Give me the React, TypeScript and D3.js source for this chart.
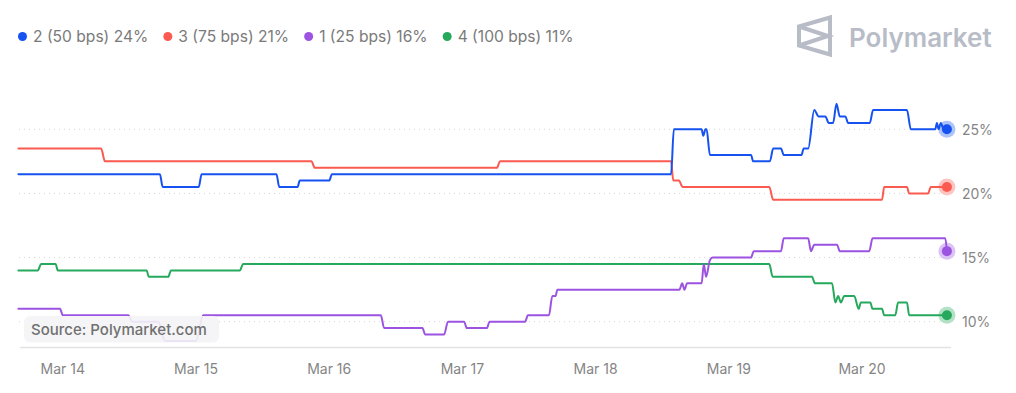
import React, { useMemo } from "react";
import * as d3 from "d3";

// ---------- DATA ----------
// time given as hours after Mar 14 00:00 (UTC), value in %
const BASE_MS = Date.UTC(2025, 2, 14);
const seriesLabels = ["2 (50 bps)", "3 (75 bps)", "1 (25 bps)", "4 (100 bps)"];
const legendValues = ["24%", "21%", "16%", "11%"];
const seriesColors = ["#1552f0", "#fa5a50", "#9c53e2", "#26a95c"];
const yTicks = [10, 15, 20, 25];
const xTickDays = [0, 1, 2, 3, 4, 5, 6];

const bps50: [number, number][] = [
  [-8, 21.5], [17.5, 21.5], [18.0, 20.5], [24.5, 20.5], [25.0, 21.5],
  [38.5, 21.5], [39.0, 20.5], [42.3, 20.5], [42.7, 21], [48.0, 21], [48.5, 21.5],
  [109.6, 21.5], [110.1, 25], [115.1, 25], [115.4, 24.5], [115.8, 25], [116.0, 25],
  [116.6, 23], [124.0, 23], [124.4, 22.5], [127.4, 22.5], [128.0, 23.5],
  [129.4, 23.5], [129.9, 23], [133.1, 23], [133.5, 23.5], [134.3, 23.5],
  [135.4, 26.5], [136.2, 26], [137.4, 26], [138.0, 25.5], [138.8, 25.5],
  [139.4, 27], [140.0, 26], [141.0, 26], [141.5, 25.5], [145.4, 25.5],
  [146.0, 26.5], [152.1, 26.5], [152.8, 25], [157.2, 25], [157.5, 25.5],
  [157.8, 25], [158.2, 25.5], [158.7, 25], [159.3, 25],
];

const bps75: [number, number][] = [
  [-8, 23.5], [6.9, 23.5], [7.6, 22.5], [44.8, 22.5], [45.4, 22],
  [78.2, 22], [78.8, 22.5], [109.6, 22.5], [110.0, 21], [111.0, 21],
  [111.7, 20.5], [127.3, 20.5], [128.0, 19.5], [147.6, 19.5], [148.0, 20.5],
  [152.1, 20.5], [152.5, 20], [155.9, 20], [156.4, 20.5], [159.3, 20.5],
];

const bps25: [number, number][] = [
  [-8, 11], [-0.5, 11], [0.0, 10.5], [11.8, 10.5], [12.5, 10], [17.2, 10],
  [18.4, 8.5], [24.0, 8.5], [25.3, 10.5], [57.3, 10.5], [57.9, 9.5],
  [64.8, 9.5], [65.3, 9], [68.7, 9], [69.4, 10], [72.3, 10], [72.8, 9.5],
  [76.4, 9.5], [76.9, 10], [83.3, 10], [83.8, 10.5], [87.6, 10.5], [88.2, 12],
  [88.8, 12], [89.1, 12.5], [111.1, 12.5], [111.6, 13], [112.0, 12.5],
  [112.5, 13], [115.1, 13], [115.5, 14.5], [115.9, 13.5], [116.6, 14.8],
  [117.1, 15], [124.0, 15], [124.5, 15.5], [129.4, 15.5], [129.9, 16.5],
  [134.3, 16.5], [134.8, 15.5], [135.4, 16], [139.5, 16], [140.0, 15.5],
  [145.3, 15.5], [145.9, 16.5], [159.0, 16.5], [159.3, 15.5],
];

const bps100: [number, number][] = [
  [-8, 14], [-4.5, 14], [-3.9, 14.5], [-1.3, 14.5], [-0.9, 14], [15.1, 14],
  [15.5, 13.5], [19.0, 13.5], [19.5, 14], [31.9, 14], [32.5, 14.5],
  [127.3, 14.5], [127.9, 13.5], [135.0, 13.5], [135.5, 13], [138.6, 13],
  [139.2, 11.5], [139.7, 12], [140.2, 11.5], [140.8, 12], [142.6, 12],
  [143.4, 11], [143.8, 11.5], [145.5, 11.5], [145.9, 11], [147.6, 11],
  [148.0, 10.5], [150.0, 10.5], [150.5, 11.5], [152.1, 11.5], [152.5, 10.5],
  [159.3, 10.5],
];

const allSeries = [bps50, bps75, bps25, bps100];

// ---------- LAYOUT ----------
const W = 1016;
const H = 393;
const FONT = "Inter, 'Noto Sans', sans-serif";
const hourToDate = (h: number) => new Date(BASE_MS + h * 3600 * 1000);

function measure(text: string, font: string): number {
  const c = document.createElement("canvas");
  const ctx = c.getContext("2d");
  if (!ctx) return text.length * 8;
  ctx.font = font;
  return ctx.measureText(text).width;
}

export default function App() {
  const x = useMemo(
    () =>
      d3
        .scaleUtc()
        .domain([new Date(BASE_MS), new Date(BASE_MS + 6 * 86400000)])
        .range([62.8, 862]),
    []
  );
  const y = useMemo(() => d3.scaleLinear().domain([10, 25]).range([321.7, 129.3]), []);

  const line = d3
    .line<[number, number]>()
    .x((d) => x(hourToDate(d[0])))
    .y((d) => y(d[1]))
    .curve(d3.curveMonotoneX);

  const fmt = d3.utcFormat("%b %-d");

  // legend layout
  const legendSize = 15.6;
  const legendFont = `${legendSize}px ${FONT}`;
  let lx = 22.5;
  const legendItems = seriesLabels.map((lab, i) => {
    const text = `${lab} ${legendValues[i]}`;
    const w = measure(text, legendFont);
    const item = { cx: lx, tx: lx + 10.5, text, color: seriesColors[i] };
    lx = lx + 10.5 + w + 19.5;
    return item;
  });

  const gridX0 = 19;
  const gridX1 = 944;

  return (
    <svg
      width={W}
      height={H}
      style={{ position: "absolute", left: 0, top: 0, background: "#fff" }}
      fontFamily={FONT}
    >
      <rect x={0} y={0} width={W} height={H} fill="#ffffff" />

      {/* legend */}
      {legendItems.map((it, i) => (
        <g key={i}>
          <circle cx={it.cx} cy={36.5} r={4.5} fill={it.color} />
          <text x={it.tx} y={36.5} dominantBaseline="central" fontSize={legendSize} fill="#7a7a7a">
            {it.text}
          </text>
        </g>
      ))}

      {/* logo */}
      <g stroke="#b8bcc7" strokeWidth={4} fill="none" strokeLinejoin="miter">
        <path d="M799 26.5 L830 17.5 L830 54.5 L799 45.5 Z" />
        <path d="M799 26.5 L828 36 L799 45.5" />
      </g>
      <text x={849} y={37} dominantBaseline="central" fontSize={26} fontWeight={600} fill="#b8bcc7">
        Polymarket
      </text>

      {/* grid */}
      {yTicks.map((t) => (
        <line
          key={t}
          x1={gridX0}
          x2={gridX1}
          y1={y(t)}
          y2={y(t)}
          stroke="#d6d6d6"
          strokeWidth={1}
          strokeDasharray="1 4"
        />
      ))}

      {/* x axis line */}
      <line x1={20} x2={951} y1={347.5} y2={347.5} stroke="#e2e2e2" strokeWidth={1.5} />

      {/* series lines, last drawn on top */}
      {allSeries
        .map((s, i) => ({ s, i }))
        .reverse()
        .map(({ s, i }) => (
          <path
            key={i}
            d={line(s) || ""}
            fill="none"
            stroke={seriesColors[i]}
            strokeWidth={2}
            strokeLinejoin="round"
            strokeLinecap="round"
          />
        ))}

      {/* source box */}
      <rect x={24} y={316} width={195} height={26.5} rx={6} fill="#f4f4f6" fillOpacity={0.9} />
      <text x={31} y={329.5} dominantBaseline="central" fontSize={15} fontWeight={500} fill="#707070">
        Source: Polymarket.com
      </text>

      {/* end dots */}
      {allSeries.map((s, i) => {
        const last = s[s.length - 1];
        const cx = x(hourToDate(last[0]));
        const cy = y(last[1]);
        return (
          <g key={i}>
            <circle cx={cx} cy={cy} r={8.5} fill={seriesColors[i]} fillOpacity={0.35} />
            <circle cx={cx} cy={cy} r={5} fill={seriesColors[i]} />
          </g>
        );
      })}

      {/* right axis labels */}
      {yTicks.map((t) => (
        <text key={t} x={962} y={y(t)} dominantBaseline="central" fontSize={14} fill="#858585">
          {`${t}%`}
        </text>
      ))}

      {/* x ticks */}
      {xTickDays.map((d) => {
        const dt = new Date(BASE_MS + d * 86400000);
        return (
          <text key={d} x={x(dt)} y={368.5} textAnchor="middle" dominantBaseline="central" fontSize={14} fill="#858585">
            {fmt(dt)}
          </text>
        );
      })}
    </svg>
  );
}
